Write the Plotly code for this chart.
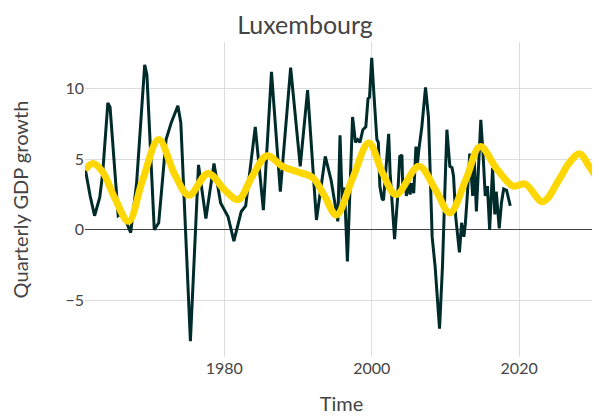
import plotly.graph_objects as go

# Quarterly GDP growth (dark line)
gdp_time = [1961.1, 1961.8, 1962.4, 1963.1, 1963.5, 1964.2, 1964.5, 1965.6, 1966.2, 1967.3,
            1968.1, 1969.2, 1969.5, 1970.5, 1971.1, 1972.1, 1972.8, 1973.7, 1974.1, 1975.4,
            1976.5, 1977.5, 1978.6, 1979.5, 1980.5, 1981.3, 1982.3, 1982.9, 1984.2, 1985.3,
            1986.4, 1987.6, 1989.0, 1990.3, 1991.3, 1992.5, 1993.7, 1994.5, 1995.4, 1995.7,
            1996.0, 1996.3, 1996.7, 1997.4, 1997.8, 1998.1, 1998.4, 1998.8, 1999.2, 1999.5,
            1999.7, 2000.0, 2000.3, 2000.7, 2000.9, 2001.1, 2001.4, 2001.6, 2001.9, 2002.3,
            2002.5, 2003.1, 2003.5, 2003.8, 2004.1, 2004.2, 2004.5, 2004.7, 2005.0, 2005.2,
            2005.4, 2005.7, 2006.0, 2006.2, 2006.4, 2006.8, 2007.3, 2007.7, 2008.2, 2008.6,
            2009.2, 2009.6, 2010.0, 2010.2, 2010.6, 2010.9, 2011.1, 2011.4, 2011.9, 2012.2,
            2012.5, 2012.7, 2013.0, 2013.3, 2013.7, 2013.9, 2014.2, 2014.5, 2014.8, 2015.1,
            2015.4, 2015.7, 2016.0, 2016.4, 2016.7, 2016.9, 2017.3, 2017.6, 2017.9, 2018.3,
            2018.8]
gdp_growth = [4.4, 2.4, 1.0, 2.3, 4.0, 9.0, 8.7, 1.0, 1.2, -0.2,
              3.3, 11.7, 11.0, 0.0, 0.5, 6.4, 7.6, 8.8, 7.6, -7.9,
              4.6, 0.8, 4.7, 1.9, 0.95, -0.8, 1.3, 1.7, 7.3, 1.4,
              11.2, 2.7, 11.5, 4.5, 9.9, 0.7, 5.2, 3.5, 0.6, 6.7,
              1.9, 3.0, -2.25, 8.0, 6.2, 6.4, 6.2, 7.1, 7.3, 9.3,
              9.4, 12.2, 9.6, 6.4, 6.2, 3.1, 2.2, 2.1, 4.1, 6.8,
              4.0, -0.66, 2.2, 5.2, 5.3, 3.2, 3.6, 2.4, 3.6, 2.5,
              3.3, 2.6, 5.9, 4.7, 5.7, 7.3, 10.1, 8.0, -0.5, -2.6,
              -7.0, -2.6, 4.0, 7.1, 4.5, 4.4, 3.8, 0.9, -1.6, 0.5,
              -0.5, 0.4, 2.7, 5.4, 2.4, 5.2, 1.3, 4.7, 7.8, 5.4,
              2.4, 3.1, 0.0, 4.4, 1.1, 2.7, 0.1, 1.9, 2.9, 2.8,
              1.7]

# Smooth trend (yellow line)
trend_time = [1961.1, 1962.2, 1963.5, 1965.1, 1967.0, 1968.9, 1971.1, 1973.3, 1975.2, 1977.8,
              1980.1, 1981.9, 1983.8, 1985.8, 1987.9, 1990.0, 1992.0, 1993.6, 1995.2, 1997.4,
              1999.6, 2001.5, 2003.3, 2006.4, 2008.7, 2010.6, 2012.8, 2014.7, 2017.0, 2019.2,
              2020.8, 2023.2, 2025.4, 2026.8, 2028.2, 2029.5, 2030.7]
trend_value = [4.25, 4.7, 4.1, 2.3, 0.6, 3.5, 6.4, 3.9, 2.45, 4.0,
               2.8, 2.15, 3.8, 5.25, 4.5, 4.1, 3.7, 2.4, 1.05, 3.65,
               6.15, 4.0, 2.5, 4.5, 2.8, 1.2, 3.6, 5.9, 4.3, 3.1,
               3.25, 2.0, 3.55, 4.75, 5.4, 4.5, 3.55]

fig = go.Figure()
fig.add_trace(go.Scatter(x=gdp_time, y=gdp_growth, mode="lines",
                         line=dict(color="#002b2b", width=3), showlegend=False))
fig.add_trace(go.Scatter(x=trend_time, y=trend_value, mode="lines",
                         line=dict(color="#FFD700", width=7, shape="spline"), showlegend=False))

fig.update_layout(
    width=600, height=417,
    template="none",
    paper_bgcolor="white", plot_bgcolor="white",
    font=dict(family="Lato, sans-serif", color="#444444", size=16),
    title=dict(text="Luxembourg", x=0.495, xanchor="center", y=1 - 17 / 417, yanchor="middle",
               font=dict(size=25, color="#444444")),
    margin=dict(l=77, r=10, t=34, b=68),
    xaxis=dict(title=dict(text="Time", font=dict(size=20), standoff=20), dtick=20,
               showgrid=True, gridcolor="#dddddd", gridwidth=1, zeroline=False,
               showline=False, ticks=""),
    yaxis=dict(title=dict(text="Quarterly GDP growth", font=dict(size=20), standoff=35),
               dtick=5, showgrid=True, gridcolor="#dddddd", gridwidth=1, zeroline=True,
               zerolinecolor="#444444", zerolinewidth=1, showline=False, ticks=""),
)

fig.write_html("out.html")
